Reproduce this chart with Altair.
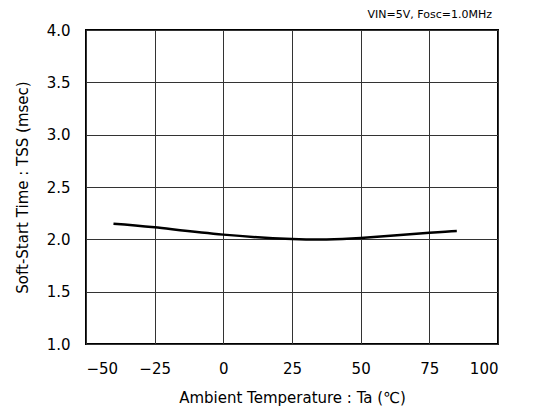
import altair as alt
import pandas as pd

temps = [-40, -25, 0, 25, 37.5, 50, 75, 85]
tss = [2.15, 2.115, 2.045, 2.003, 1.998, 2.012, 2.063, 2.08]
x_ticks = [-50, -25, 0, 25, 50, 75, 100]
y_ticks = [1.0, 1.5, 2.0, 2.5, 3.0, 3.5, 4.0]
note = "VIN=5V, Fosc=1.0MHz"

df = pd.DataFrame({"Ta": temps, "TSS": tss})
FONT = "DejaVu Sans"

line = alt.Chart(df).mark_line(color="black", strokeWidth=2.5, interpolate="natural").encode(
    x=alt.X("Ta:Q", scale=alt.Scale(domain=[-50, 100], nice=False),
            axis=alt.Axis(values=x_ticks, title="Ambient Temperature : Ta (℃)", format="d",
                          labelPadding=17, titlePadding=14)),
    y=alt.Y("TSS:Q", scale=alt.Scale(domain=[1.0, 4.0], nice=False, zero=False),
            axis=alt.Axis(values=y_ticks, title="Soft-Start Time : TSS (msec)", format=".1f",
                          labelPadding=16, titlePadding=16)),
)

label = alt.Chart(pd.DataFrame({"t": [note]})).mark_text(
    font=FONT, fontSize=11, align="right", baseline="alphabetic", color="black"
).encode(text="t:N", x=alt.value(406), y=alt.value(-12))

chart = alt.layer(line, label).properties(
    width=412, height=314,
    autosize=alt.AutoSizeParams(type="none"),
    padding={"left": 78, "top": 22, "right": 27, "bottom": 64},
).configure_view(
    stroke="black", strokeWidth=2
).configure_axis(
    labelFont=FONT, titleFont=FONT, labelFontSize=15, titleFontSize=15,
    labelColor="black", titleColor="black", titleFontWeight="normal",
    grid=True, gridColor="#333333", gridWidth=1, gridOpacity=1,
    domain=False, ticks=False,
)

chart.save("out.html", embed_options={"renderer": "svg", "actions": False})
